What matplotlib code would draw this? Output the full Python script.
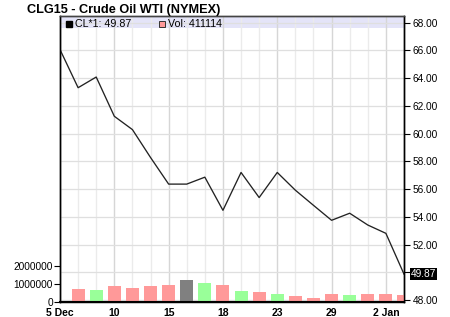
import numpy as np
import matplotlib
matplotlib.use("Agg")
import matplotlib.pyplot as plt
from matplotlib.patches import Rectangle

plt.rcParams['font.family'] = ['Liberation Sans', 'DejaVu Sans']

# trading days 5 Dec 2014 .. 5 Jan 2015
days = ["5 Dec", "8", "9", "10", "11", "12", "15", "16", "17", "18", "19",
        "22", "23", "24", "26", "29", "30", "31", "2 Jan", "5 Jan"]
prices = [66.06, 63.31, 64.08, 61.25, 60.29, 58.28, 56.36, 56.36, 56.86, 54.47,
          57.20, 55.39, 57.20, 55.92, 54.83, 53.75, 54.26, 53.41, 52.81, 49.87]
volumes = [np.nan, 730000, 680000, 880000, 770000, 880000, 930000, 1210000, 1040000, 930000,
           600000, 550000, 440000, 330000, 220000, 440000, 380000, 440000, 440000, 411114]
labeled_days = ["5 Dec", "10", "15", "18", "23", "29", "2 Jan"]
price_ticks = [48, 50, 52, 54, 56, 58, 60, 62, 64, 66, 68]
vol_ticks = [0, 1000000, 2000000]

x = np.arange(len(days))

# bar colours from price change
colors = []
for i in range(len(prices)):
    if i == 0 or prices[i] == prices[i - 1]:
        colors.append('#808080')
    elif prices[i] > prices[i - 1]:
        colors.append('#99FF99')
    else:
        colors.append('#FF9999')

fig = plt.figure(figsize=(4.5, 3.17), dpi=100)
ax = fig.add_axes([60 / 450, 1 - 302 / 317, 344 / 450, 286 / 317])
vax = ax.twinx()

# price axis (right)
ax.set_xlim(0, len(days) - 1)
ax.set_ylim(47.86, 68.48)
ax.yaxis.tick_right()
ax.set_yticks(price_ticks)
ax.set_yticklabels(["" if p == 50 else "%.2f" % p for p in price_ticks], fontsize=7.3)
ax.tick_params(axis='y', direction='out', length=4, width=0.8, pad=2, colors='black')

major = [days.index(d) for d in labeled_days]
ax.set_xticks(major)
ax.set_xticklabels(labeled_days, fontsize=7.5, fontweight='bold')
ax.set_xticks([i for i in x if i not in major], minor=True)
ax.tick_params(axis='x', which='both', length=0, pad=4)

ax.grid(axis='y', color='#DFDFDF', lw=0.9)
ax.grid(axis='x', which='major', color='#D6D6D6', lw=1)
ax.grid(axis='x', which='minor', color='#EBEBEB', lw=1)
ax.set_axisbelow(True)

ax.add_patch(Rectangle((0, 1 - 12 / 286), 1, 12 / 286, transform=ax.transAxes,
                       facecolor='#E4E4F8', edgecolor='none', zorder=0.2))

ax.plot(x, prices, color='#222222', lw=0.95, zorder=3)

# last price box
ax.annotate("%.2f" % prices[-1], xy=(1, prices[-1]), xycoords=('axes fraction', 'data'),
            xytext=(5, 0), textcoords='offset points', va='center', ha='left',
            fontsize=7.3, color='white', annotation_clip=False,
            bbox=dict(boxstyle='square,pad=0.1', facecolor='black', edgecolor='none'))

# volume axis (left)
vax.bar(x, volumes, width=0.72, color=colors, zorder=2)
vax.set_ylim(0, 15.7e6)
vax.yaxis.tick_left()
vax.set_yticks(vol_ticks)
vax.set_yticklabels([str(v) for v in vol_ticks], fontsize=7.3)
vax.tick_params(axis='y', direction='out', length=4, width=0.8, pad=1)

for a in (ax, vax):
    for s in a.spines.values():
        s.set_linewidth(1.0)
    a.spines['top'].set_color('#444444')
vax.spines['bottom'].set_linewidth(1.5)

fig.text(27 / 450, 1 - 9.5 / 317, "CLG15 - Crude Oil WTI (NYMEX)", fontsize=9.2,
         fontweight='bold', va='center', ha='left')

# legend entries inside the band
fig.patches.append(Rectangle((66 / 450, 1 - 27 / 317), 6 / 450, 6 / 317,
                             transform=fig.transFigure, facecolor='black', edgecolor='black'))
fig.text(75 / 450, 1 - 24 / 317, "CL*1: 49.87", fontsize=7.7, va='center', ha='left')
fig.patches.append(Rectangle((159 / 450, 1 - 27 / 317), 6 / 450, 6 / 317,
                             transform=fig.transFigure, facecolor='#FF9999',
                             edgecolor='#333333', lw=0.7))
fig.text(168 / 450, 1 - 24 / 317, "Vol: 411114", fontsize=7.7, va='center', ha='left')

fig.savefig("out.png", dpi=100)
